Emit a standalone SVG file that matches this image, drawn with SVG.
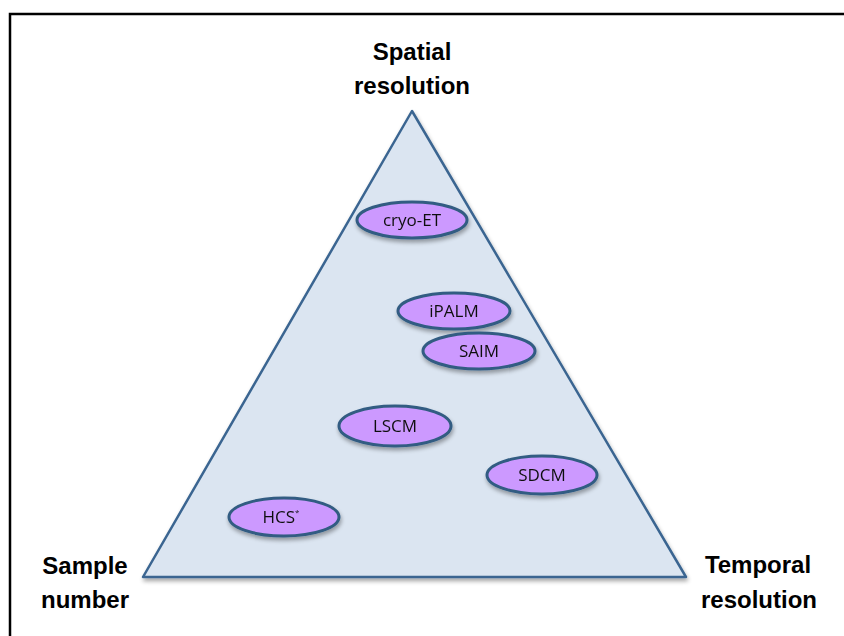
<svg xmlns="http://www.w3.org/2000/svg" width="844" height="636" viewBox="0 0 844 636">
<defs>
<filter id="sh" x="-20%" y="-20%" width="140%" height="160%">
<feGaussianBlur in="SourceAlpha" stdDeviation="2"/>
<feOffset dx="1" dy="3" result="b"/>
<feComponentTransfer><feFuncA type="linear" slope="0.35"/></feComponentTransfer>
<feMerge><feMergeNode/><feMergeNode in="SourceGraphic"/></feMerge>
</filter>
</defs>
<style>
.axis{font-family:"Liberation Sans",Arial,sans-serif;font-weight:bold;font-size:24px;fill:#000;text-anchor:middle}
.node ellipse{fill:#cc99ff;stroke:#305b82;stroke-width:3}
.node text{font-family:"Open Sans","Liberation Sans",sans-serif;font-size:17px;fill:#111;text-anchor:middle}
</style>
<rect x="0" y="0" width="844" height="636" fill="#fff"/>
<rect x="10" y="14" width="850" height="640" fill="none" stroke="#000" stroke-width="2.5"/>
<g id="triangle">
<polygon points="412,111 143,577 686,577" fill="#dbe5f1" stroke="#3a6591" stroke-width="2.5" stroke-linejoin="round" filter="url(#sh)"/>
</g>
<g id="labels">
<text class="axis" x="412" y="60">Spatial</text>
<text class="axis" x="412" y="94">resolution</text>
<text class="axis" x="85" y="574">Sample</text>
<text class="axis" x="85" y="608">number</text>
<text class="axis" x="758" y="573">Temporal</text>
<text class="axis" x="759" y="608">resolution</text>
</g>
<g id="connectors"></g>
<g id="cryo-ET" class="node" filter="url(#sh)"><ellipse cx="412" cy="220" rx="55" ry="18"/><text x="412" y="226">cryo-ET</text></g>
<g id="iPALM" class="node" filter="url(#sh)"><ellipse cx="454" cy="311" rx="56" ry="18"/><text x="454" y="317">iPALM</text></g>
<g id="SAIM" class="node" filter="url(#sh)"><ellipse cx="479" cy="351" rx="56" ry="18"/><text x="479" y="357">SAIM</text></g>
<g id="LSCM" class="node" filter="url(#sh)"><ellipse cx="395" cy="426" rx="56" ry="20"/><text x="395" y="432">LSCM</text></g>
<g id="SDCM" class="node" filter="url(#sh)"><ellipse cx="542" cy="475" rx="55" ry="19"/><text x="542" y="481">SDCM</text></g>
<g id="HCS" class="node" filter="url(#sh)"><ellipse cx="284" cy="517" rx="55" ry="19"/><text x="281" y="523">HCS<tspan font-size="8" dy="-8">*</tspan></text></g>
</svg>
